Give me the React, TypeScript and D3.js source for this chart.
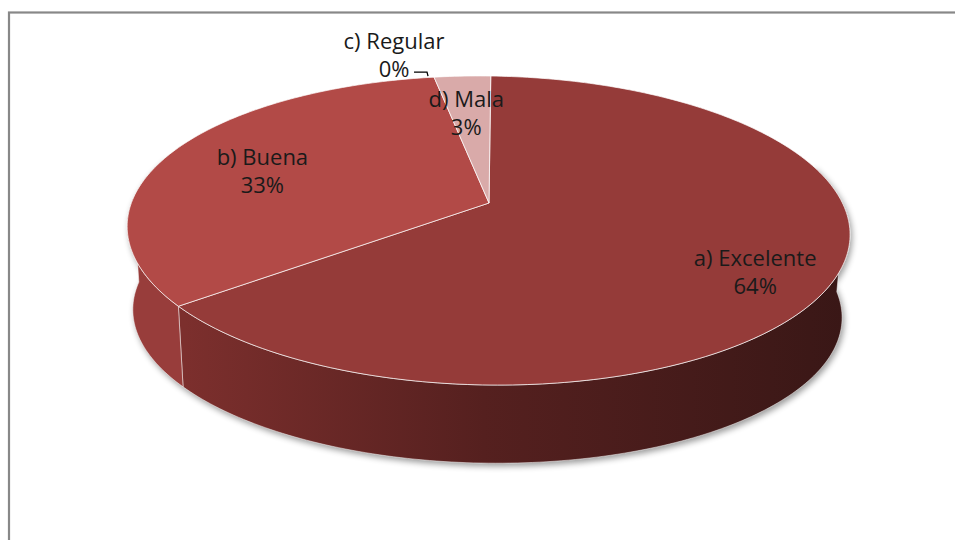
import * as d3 from "d3";

// chart data
const categories = ["a) Excelente", "b) Buena", "c) Regular", "d) Mala"];
const percents = [64, 33, 0, 3];
const topColors = ["#953B39", "#B24A47", "#C0504D", "#D9AAA9"];
const sideColors = ["url(#sideA)", "#983D3B", "#A84744", "#C79897"];

const W = 955;
const H = 540;
const CX = 489;
// perspective ellipses for the top and bottom planes of the pie
const TOP = { cy: 203, rx: 355.7, ry: 149.6 };
const BOTTOM = { cy: 287, rx: 349, ry: 144.8 };
const K = 0.178;
const TILT = 0.8; // degrees, the pie leans slightly to the right

// where each inside label sits relative to its mid-angle anchor
const LABEL_R = 0.75;
const labelNudge: [number, number][] = [
  [11, 14],
  [13, 7],
  [0, 0],
  [-2, 8],
];

type Plane = { cy: number; rx: number; ry: number };

function tilt([x, y]: [number, number]): [number, number] {
  const r = (TILT * Math.PI) / 180;
  const dx = x - CX;
  const dy = y - TOP.cy;
  return [CX + dx * Math.cos(r) - dy * Math.sin(r), TOP.cy + dx * Math.sin(r) + dy * Math.cos(r)];
}

function project(plane: Plane, theta: number, f = 1): [number, number] {
  const X = f * Math.sin(theta);
  const Z = f * Math.cos(theta);
  const s = 1 / (1 + K * Z);
  return tilt([CX + plane.rx * X * s, plane.cy - plane.ry * Z * s]);
}

function arcPoints(plane: Plane, a0: number, a1: number) {
  const n = Math.max(2, Math.ceil(((a1 - a0) * 180) / Math.PI));
  return d3.range(n + 1).map((i) => project(plane, a0 + ((a1 - a0) * i) / n));
}

const line = d3.line().curve(d3.curveLinear);

export default function App() {
  const pie = d3
    .pie<number>()
    .sort(null)
    .startAngle(0)
    .endAngle(2 * Math.PI)(percents);

  const wallFrom = Math.PI / 2;
  const wallTo = (3 * Math.PI) / 2;

  const walls = pie
    .map((p, i) => {
      const a0 = Math.max(p.startAngle, wallFrom);
      const a1 = Math.min(p.endAngle, wallTo);
      if (a1 <= a0) return null;
      const pts = [...arcPoints(TOP, a0, a1), ...arcPoints(BOTTOM, a0, a1).reverse()];
      return { i, d: line(pts) + "Z" };
    })
    .filter(Boolean) as { i: number; d: string }[];

  const center = tilt([CX, TOP.cy]);
  const tops = pie
    .map((p, i) => {
      if (p.endAngle - p.startAngle <= 0) return null;
      const pts = [center, ...arcPoints(TOP, p.startAngle, p.endAngle)];
      return { i, d: line(pts) + "Z" };
    })
    .filter(Boolean) as { i: number; d: string }[];

  const shadowPts = [...arcPoints(TOP, wallFrom - 0.3, wallTo + 0.3), ...arcPoints(BOTTOM, wallFrom - 0.3, wallTo + 0.3).reverse()];
  const shadowD = line(shadowPts) + "Z";

  const fmt = (v: number) => `${Math.round(v)}%`;
  const total = d3.sum(percents);

  const labels = pie.map((p, i) => {
    const pct = fmt((p.value / total) * 100);
    const mid = (p.startAngle + p.endAngle) / 2;
    if (p.endAngle - p.startAngle <= 0) {
      // zero slice: label outside with a leader line
      const rim = project(TOP, p.startAngle);
      return {
        i,
        x: rim[0] - 40,
        y: rim[1] - 23,
        pct,
        leader: [
          [rim[0] - 20, rim[1] - 5],
          [rim[0] - 7, rim[1] - 5],
          [rim[0] - 6, rim[1] - 1],
        ] as [number, number][],
      };
    }
    const [x, y] = project(TOP, mid, LABEL_R);
    return { i, x: x + labelNudge[i][0], y: y + labelNudge[i][1], pct, leader: null };
  });

  return (
    <svg
      width={W}
      height={H}
      style={{ position: "absolute", left: 0, top: 0, display: "block", background: "#fff" }}
      fontFamily="'Open Sans', sans-serif"
    >
      <defs>
        <linearGradient id="sideA" gradientUnits="userSpaceOnUse" x1={185} x2={850} y1={0} y2={0}>
          <stop offset="0" stopColor="#7C2F2D" />
          <stop offset="0.45" stopColor="#55201F" />
          <stop offset="1" stopColor="#391716" />
        </linearGradient>
        <filter id="blur" x="-10%" y="-10%" width="120%" height="130%">
          <feGaussianBlur stdDeviation="3" />
        </filter>
      </defs>

      <rect x={9} y={12.5} width={1000} height={1000} fill="none" stroke="#888" strokeWidth={2.2} />

      <path d={shadowD} transform="translate(2,3)" fill="#000" opacity={0.4} filter="url(#blur)" />

      {walls.map((w) => (
        <path key={"w" + w.i} d={w.d} fill={sideColors[w.i]} stroke="#fff" strokeOpacity={0.55} strokeWidth={0.9} />
      ))}

      {tops.map((t) => (
        <path key={"t" + t.i} d={t.d} fill={topColors[t.i]} stroke="#fff" strokeOpacity={0.7} strokeWidth={1} strokeLinejoin="round" />
      ))}

      {labels.map((l) => (
        <g key={"l" + l.i} fill="#1a1a1a" fontSize={22} textAnchor="middle">
          <text x={l.x} y={l.y - 14} dominantBaseline="central">
            {categories[l.i]}
          </text>
          <text x={l.x} y={l.y + 14} dominantBaseline="central">
            {l.pct}
          </text>
          {l.leader && <path d={line(l.leader) as string} fill="none" stroke="#000" strokeWidth={1.3} />}
        </g>
      ))}
    </svg>
  );
}
